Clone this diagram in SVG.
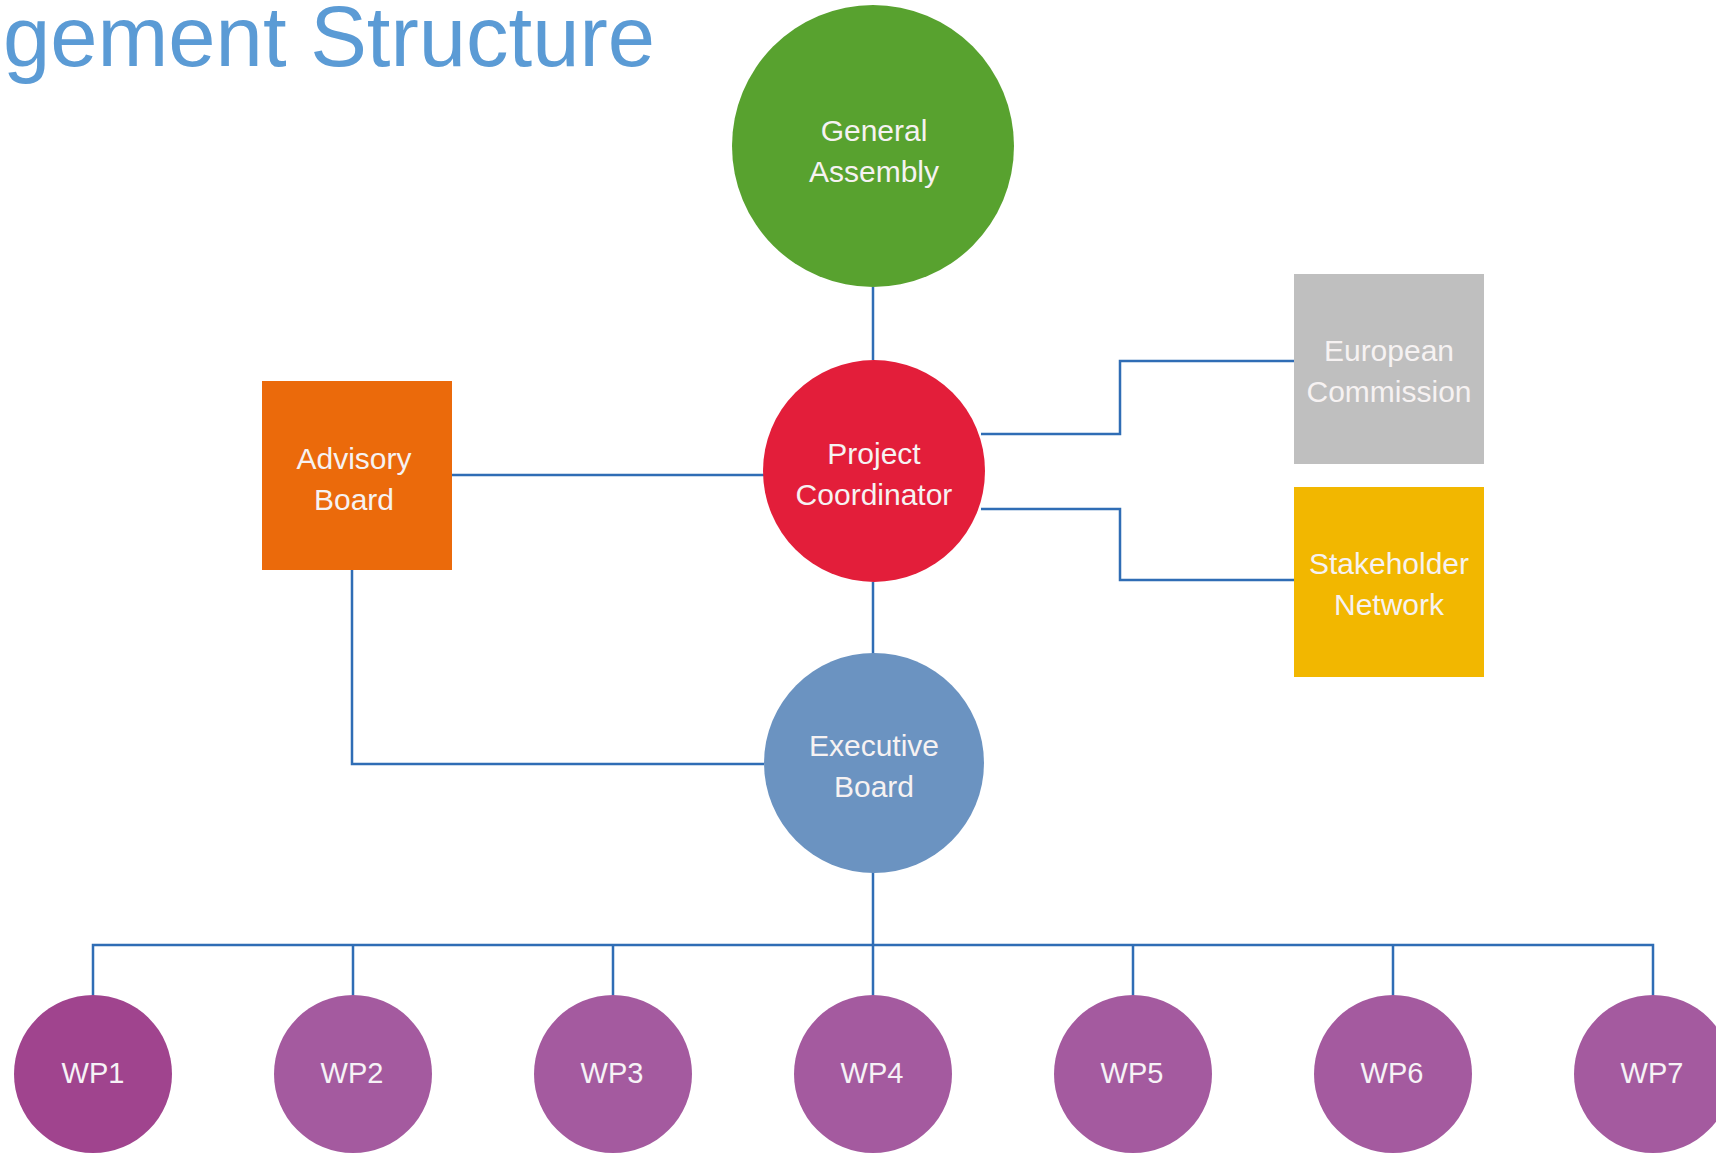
<svg xmlns="http://www.w3.org/2000/svg" width="1716" height="1153" viewBox="0 0 1716 1153">
<style>
.lbl{font-family:"Liberation Sans",Arial,sans-serif;font-size:30px;fill:#F6F2F2;text-anchor:middle}
.wp{font-family:"Liberation Sans",Arial,sans-serif;font-size:29px;fill:#F6F2F6;text-anchor:middle}
.conn{fill:none;stroke:#2F6DB5;stroke-width:2.5}
.title{font-family:"Liberation Sans",Arial,sans-serif;font-size:85px;fill:#5B9BD5}
</style>
<rect width="1716" height="1153" fill="#FFFFFF"/>
<text class="title" x="3" y="66">gement Structure</text>
<g id="connectors">
<path class="conn" d="M873 287 V360"/>
<path class="conn" d="M452 475 H764"/>
<path class="conn" d="M873 582 V654"/>
<path class="conn" d="M352 570 V764 H764"/>
<path class="conn" d="M981 434 H1120 V361 H1294"/>
<path class="conn" d="M981 509 H1120 V580 H1294"/>
<path class="conn" d="M873 872 V945"/>
<path class="conn" d="M93 995 V945 H1653 V995"/>
<path class="conn" d="M353 945 V995 M613 945 V995 M873 945 V995 M1133 945 V995 M1393 945 V995"/>
</g>
<g id="general-assembly">
<circle cx="873" cy="146" r="141" fill="#58A22F"/>
<text class="lbl" x="874" y="141">General</text>
<text class="lbl" x="874" y="182">Assembly</text>
</g>
<g id="project-coordinator">
<circle cx="874" cy="471" r="111" fill="#E31E3A"/>
<text class="lbl" x="874" y="464">Project</text>
<text class="lbl" x="874" y="505">Coordinator</text>
</g>
<g id="advisory-board">
<rect x="262" y="381" width="190" height="189" fill="#EB6A0B"/>
<text class="lbl" x="354" y="469">Advisory</text>
<text class="lbl" x="354" y="510">Board</text>
</g>
<g id="executive-board">
<circle cx="874" cy="763" r="110" fill="#6B93C1"/>
<text class="lbl" x="874" y="756">Executive</text>
<text class="lbl" x="874" y="797">Board</text>
</g>
<g id="european-commission">
<rect x="1294" y="274" width="190" height="190" fill="#BFBFBF"/>
<text class="lbl" x="1389" y="361">European</text>
<text class="lbl" x="1389" y="402">Commission</text>
</g>
<g id="stakeholder-network">
<rect x="1294" y="487" width="190" height="190" fill="#F2B700"/>
<text class="lbl" x="1389" y="574">Stakeholder</text>
<text class="lbl" x="1389" y="615">Network</text>
</g>
<g id="wp1"><circle cx="93" cy="1074" r="79" fill="#A0448E"/><text class="wp" x="93" y="1083">WP1</text></g>
<g id="wp2"><circle cx="353" cy="1074" r="79" fill="#A45A9F"/><text class="wp" x="352" y="1083">WP2</text></g>
<g id="wp3"><circle cx="613" cy="1074" r="79" fill="#A45A9F"/><text class="wp" x="612" y="1083">WP3</text></g>
<g id="wp4"><circle cx="873" cy="1074" r="79" fill="#A45A9F"/><text class="wp" x="872" y="1083">WP4</text></g>
<g id="wp5"><circle cx="1133" cy="1074" r="79" fill="#A45A9F"/><text class="wp" x="1132" y="1083">WP5</text></g>
<g id="wp6"><circle cx="1393" cy="1074" r="79" fill="#A45A9F"/><text class="wp" x="1392" y="1083">WP6</text></g>
<g id="wp7"><circle cx="1653" cy="1074" r="79" fill="#A45A9F"/><text class="wp" x="1652" y="1083">WP7</text></g>
</svg>
